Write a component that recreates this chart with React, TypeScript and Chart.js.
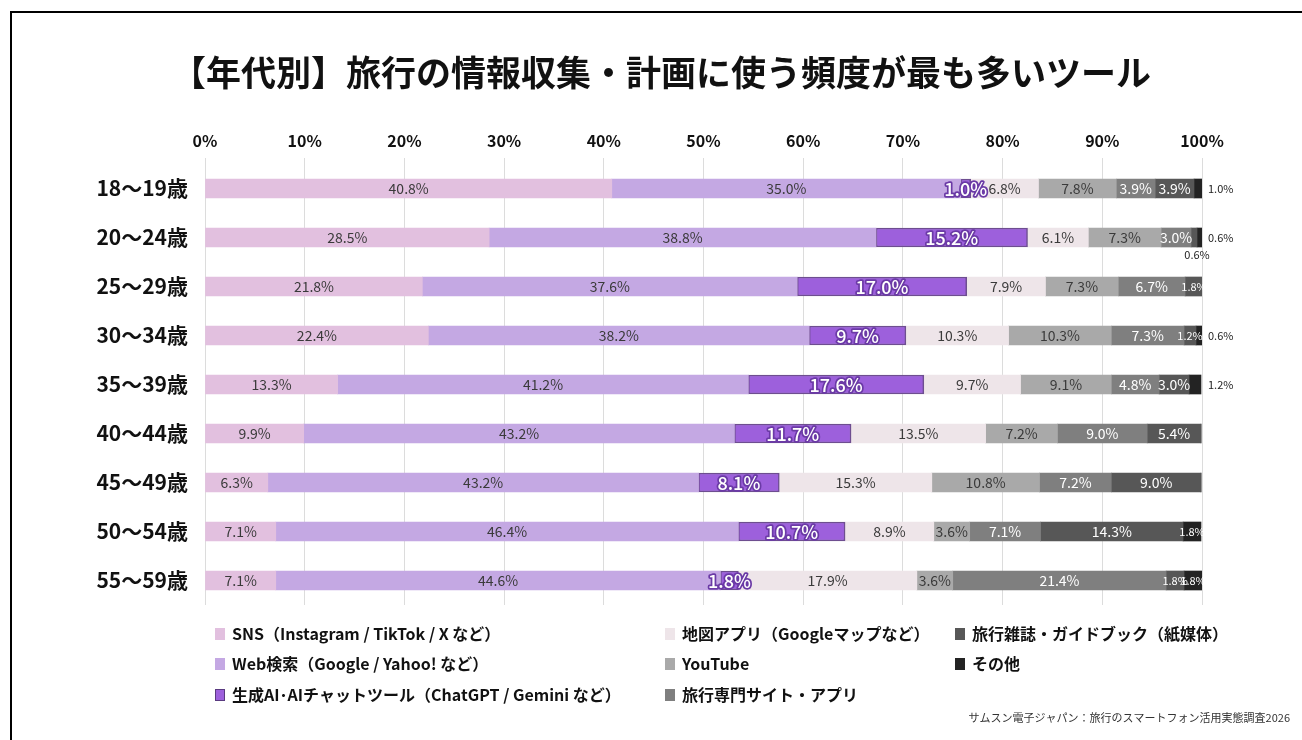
import React, { useEffect, useRef } from "react";
import { Chart, registerables } from "chart.js";

Chart.register(...registerables);

const titleText = "【年代別】旅行の情報収集・計画に使う頻度が最も多いツール";
const sourceText = "サムスン電子ジャパン：旅行のスマートフォン活用実態調査2026";

const ageGroups = [
  "18〜19歳",
  "20〜24歳",
  "25〜29歳",
  "30〜34歳",
  "35〜39歳",
  "40〜44歳",
  "45〜49歳",
  "50〜54歳",
  "55〜59歳",
];

const seriesNames = [
  "SNS（Instagram / TikTok / X など）",
  "Web検索（Google / Yahoo! など）",
  "生成AI･AIチャットツール（ChatGPT / Gemini など）",
  "地図アプリ（Googleマップなど）",
  "YouTube",
  "旅行専門サイト・アプリ",
  "旅行雑誌・ガイドブック（紙媒体）",
  "その他",
];

const sns = [40.8, 28.5, 21.8, 22.4, 13.3, 9.9, 6.3, 7.1, 7.1];
const webSearch = [35.0, 38.8, 37.6, 38.2, 41.2, 43.2, 43.2, 46.4, 44.6];
const genAI = [1.0, 15.2, 17.0, 9.7, 17.6, 11.7, 8.1, 10.7, 1.8];
const mapApp = [6.8, 6.1, 7.9, 10.3, 9.7, 13.5, 15.3, 8.9, 17.9];
const youtube = [7.8, 7.3, 7.3, 10.3, 9.1, 7.2, 10.8, 3.6, 3.6];
const travelSite = [3.9, 3.0, 6.7, 7.3, 4.8, 9.0, 7.2, 7.1, 21.4];
const guideBook = [3.9, 0.6, 1.8, 1.2, 3.0, 5.4, 9.0, 14.3, 1.8];
const others = [1.0, 0.6, 0, 0.6, 1.2, 0, 0, 1.8, 1.8];

const seriesValues = [sns, webSearch, genAI, mapApp, youtube, travelSite, guideBook, others];

const xTicks = [0, 10, 20, 30, 40, 50, 60, 70, 80, 90, 100];

const fillColors = ["#e2c0df", "#c4a8e3", "#9d60dc", "#eee5e9", "#a9a9a9", "#7f7f7f", "#575757", "#232323"];
const labelColors = ["#3a3a3a", "#3a3a3a", "#ffffff", "#3a3a3a", "#3a3a3a", "#ffffff", "#ffffff", "#ffffff"];

const FONT = "'Noto Sans CJK JP', 'Noto Sans', sans-serif";

const segLabelPlugin = {
  id: "segLabels",
  afterDatasetsDraw(chart: any) {
    const ctx = chart.ctx as CanvasRenderingContext2D;
    ctx.save();
    ctx.textBaseline = "middle";
    chart.data.datasets.forEach((ds: any, di: number) => {
      const meta = chart.getDatasetMeta(di);
      meta.data.forEach((el: any, i: number) => {
        const v = ds.data[i] as number;
        if (!v) return;
        const p = el.getProps(["x", "y", "base"], true);
        const cx = (p.x + p.base) / 2;
        const text = v.toFixed(1) + "%";
        if (di === 7 && v < 1.5) {
          ctx.font = `400 11px ${FONT}`;
          ctx.fillStyle = "#222";
          ctx.textAlign = "left";
          ctx.fillText(text, chart.chartArea.right + 6, p.y);
          return;
        }
        if (di === 6 && v < 1) {
          ctx.font = `400 11px ${FONT}`;
          ctx.fillStyle = "#222";
          ctx.textAlign = "center";
          ctx.fillText(text, cx + 3, p.y + 17);
          return;
        }
        ctx.textAlign = "center";
        if (di === 2) {
          ctx.font = `500 18px ${FONT}`;
          ctx.lineJoin = "round";
          ctx.lineWidth = 3.5;
          ctx.strokeStyle = "#6b3aa6";
          ctx.strokeText(text, cx, p.y + 0.5);
          ctx.fillStyle = "#ffffff";
          ctx.fillText(text, cx, p.y + 0.5);
          return;
        }
        ctx.font = v < 2 ? `400 11px ${FONT}` : `400 14px ${FONT}`;
        ctx.fillStyle = labelColors[di];
        ctx.fillText(text, cx, p.y + 0.5);
      });
    });
    ctx.restore();
  },
};

const decorPlugin = {
  id: "decor",
  afterDraw(chart: any) {
    const ctx = chart.ctx as CanvasRenderingContext2D;
    ctx.save();
    // title
    ctx.font = `700 35px ${FONT}`;
    ctx.fillStyle = "#111";
    ctx.textAlign = "center";
    ctx.textBaseline = "middle";
    ctx.fillText(titleText, 661, 73);
    // legend (column-first, 3 rows)
    const colX = [215, 665, 955];
    const rowY = [634, 664, 695];
    chart.data.datasets.forEach((ds: any, i: number) => {
      const c = Math.floor(i / 3);
      const r = i % 3;
      const x = colX[c];
      const y = rowY[r];
      ctx.fillStyle = ds.backgroundColor;
      ctx.fillRect(x, y - 6, 10, 12);
      if (i === 2) {
        ctx.strokeStyle = "#5a3a80";
        ctx.lineWidth = 1;
        ctx.strokeRect(x + 0.5, y - 5.5, 9, 11);
      }
      ctx.font = `700 16px ${FONT}`;
      ctx.fillStyle = "#111";
      ctx.textAlign = "left";
      ctx.fillText(ds.label, x + 17, y);
    });
    // source
    ctx.font = `400 11px ${FONT}`;
    ctx.fillStyle = "#333";
    ctx.textAlign = "right";
    ctx.fillText(sourceText, 1290, 718);
    ctx.restore();
  },
};

export default function App() {
  const canvasRef = useRef<HTMLCanvasElement | null>(null);

  useEffect(() => {
    if (!canvasRef.current) return;
    const datasets = seriesValues.map((vals, i) => ({
      label: seriesNames[i],
      data: vals,
      backgroundColor: fillColors[i],
      borderColor: i === 2 ? "#6e4e90" : fillColors[i],
      borderWidth: i === 2 ? 1.5 : 0,
      borderSkipped: false,
      barThickness: 19,
    }));
    const chart = new Chart(canvasRef.current, {
      type: "bar",
      data: { labels: ageGroups, datasets },
      options: {
        indexAxis: "y",
        animation: false,
        responsive: false,
        maintainAspectRatio: false,
        layout: { padding: { left: 0, right: 100, top: 124, bottom: 135 } },
        plugins: {
          legend: { display: false },
          tooltip: { enabled: false },
          title: { display: false },
        },
        scales: {
          x: {
            position: "top",
            stacked: true,
            min: 0,
            max: 100,
            afterBuildTicks: (scale: any) => {
              scale.ticks = xTicks.map((v) => ({ value: v }));
            },
            afterFit: (scale: any) => {
              scale.height = 40;
            },
            border: { display: false },
            grid: { color: "#dcdcdc", lineWidth: 1, drawTicks: true, tickLength: 6 },
            ticks: {
              padding: 7,
              color: "#111",
              font: { family: FONT, size: 16, weight: "bold" },
              callback: (v: any) => v + "%",
            },
          },
          y: {
            stacked: true,
            afterFit: (scale: any) => {
              scale.width = 205;
            },
            border: { display: false },
            grid: { display: false, drawTicks: false },
            ticks: {
              padding: 17,
              color: "#111",
              font: { family: FONT, size: 21, weight: "bold" },
            },
          },
        },
      },
      plugins: [segLabelPlugin, decorPlugin],
    } as any);
    return () => chart.destroy();
  }, []);

  return (
    <div style={{ position: "fixed", left: 0, top: 0, width: 1302, height: 740, background: "#fff", overflow: "hidden" }}>
      <canvas ref={canvasRef} width={1302} height={740} style={{ position: "absolute", left: 0, top: 0, width: 1302, height: 740 }} />
      <div
        style={{
          position: "absolute",
          left: 10,
          top: 11,
          width: 1400,
          height: 800,
          borderLeft: "2.5px solid #000",
          borderTop: "2.5px solid #000",
          pointerEvents: "none",
        }}
      />
    </div>
  );
}
